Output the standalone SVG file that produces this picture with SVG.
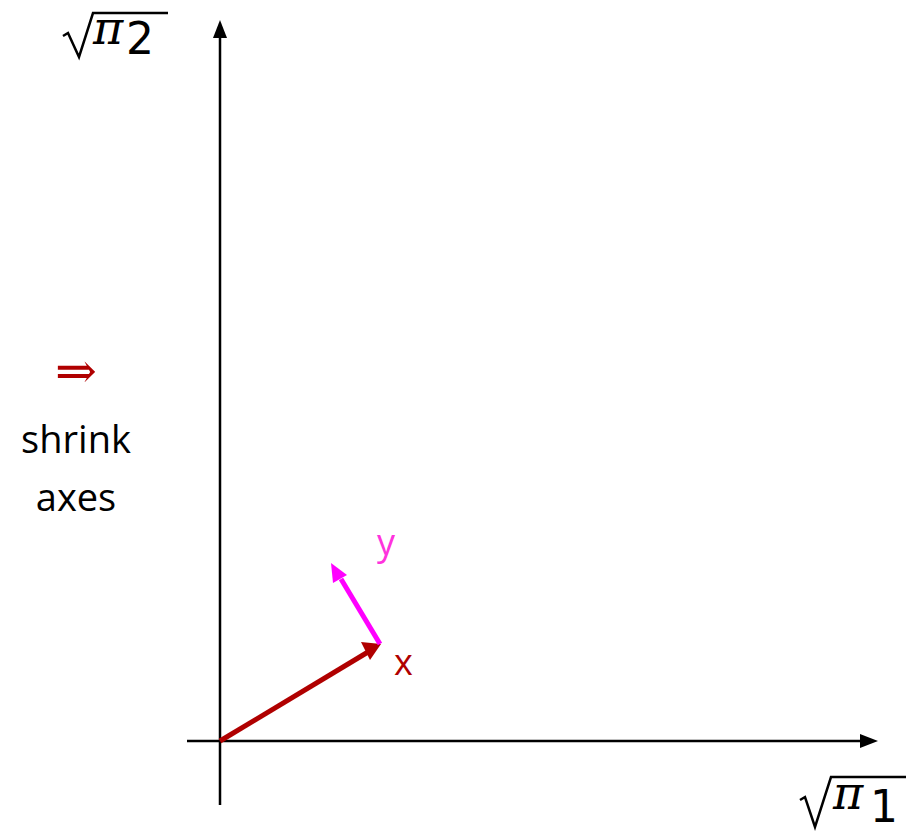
<svg xmlns="http://www.w3.org/2000/svg" width="912" height="832" viewBox="0 0 912 832">
<style>
.ax{stroke:#000;stroke-width:2.5;fill:none}
.rad{fill:none;stroke:#000;stroke-width:2.5;stroke-linejoin:miter}
.pi{font-family:"DejaVu Serif",serif;font-style:italic;font-size:46px;fill:#000}
.dig{font-family:"DejaVu Sans",sans-serif;font-size:44px;fill:#000}
.side{font-family:"Open Sans","Noto Sans",sans-serif;font-size:38px;fill:#000}
</style>
<g id="connectors">
<line class="ax" x1="220" y1="805" x2="220" y2="38"/>
<path d="M213,38L220,20L227,38z" fill="#000"/>
<line class="ax" x1="187" y1="741" x2="860" y2="741"/>
<path d="M860,734L878,741L860,748z" fill="#000"/>
<line x1="220" y1="741" x2="368" y2="652" stroke="#b00000" stroke-width="5"/>
<path d="M361,642L381,644L370,660z" fill="#b00000"/>
<line x1="380" y1="644" x2="341" y2="579" stroke="#ff00ff" stroke-width="5"/>
<path d="M331,563L347,575L333,583z" fill="#ff00ff"/>
</g>
<g id="label-pi2">
<path class="rad" d="M63,36L68,33L79,57L93,13L168,13"/>
<text x="93" y="44" class="pi">π</text>
<text x="126" y="54" class="dig">2</text>
</g>
<g id="label-pi1">
<path class="rad" d="M800,800L805,797L815,827L831,777L906,777"/>
<text x="833" y="809" class="pi">π</text>
<text x="870" y="822" class="dig">1</text>
</g>
<g id="side-note">
<text x="76" y="388" text-anchor="middle" font-family="'DejaVu Serif',serif" font-size="50" fill="#b00000">⇒</text>
<text x="76" y="453" text-anchor="middle" class="side">shrink</text>
<text x="76" y="511" text-anchor="middle" class="side">axes</text>
</g>
<g id="vec-x">
<text x="394" y="675" font-family="'Open Sans','Noto Sans',sans-serif" font-size="36" fill="#b00000">x</text>
</g>
<g id="vec-y">
<text x="377" y="555" font-family="'Open Sans','Noto Sans',sans-serif" font-size="36" fill="#ff33dd">y</text>
</g>
</svg>
